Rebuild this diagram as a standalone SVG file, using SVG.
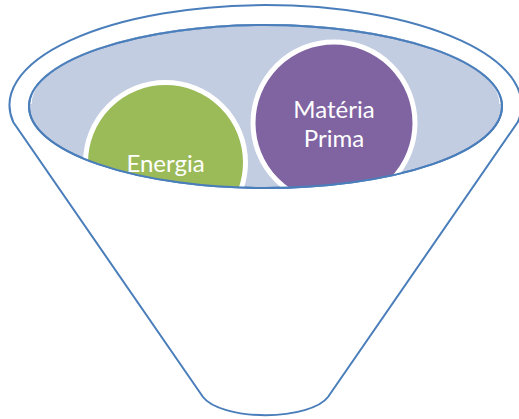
<svg xmlns="http://www.w3.org/2000/svg" width="519" height="419" viewBox="0 0 519 419">
  <defs>
    <style>
      .outline { fill: none; stroke: #4A7EBB; stroke-width: 2; }
      .bowl { fill: #C3CDE1; stroke: #4A7EBB; stroke-width: 2; }
      .ball { stroke: #FFFFFF; stroke-width: 5; }
      .label { fill: #FFFFFF; font-family: Lato, "Liberation Sans", sans-serif; font-size: 24px; text-anchor: middle; }
    </style>
    <clipPath id="bowlClip">
      <ellipse cx="265.5" cy="106.5" rx="236.5" ry="81.5"/>
    </clipPath>
  </defs>
  <rect width="519" height="419" fill="#FFFFFF"/>
  <g id="funnel">
    <path class="outline" d="M 13.2 122 A 256 100 0 1 1 517.8 122 L 328 397 A 65 25 0 0 1 203 397 Z"/>
  </g>
  <g id="bowl">
    <ellipse class="bowl" cx="265.5" cy="106.5" rx="236.5" ry="81.5"/>
    <path d="M 31 104 A 234.5 79 0 0 1 500 104" fill="none" stroke="#FFFFFF" stroke-width="1.2"/>
  </g>
  <g id="energia" clip-path="url(#bowlClip)">
    <circle class="ball" cx="165.5" cy="162.5" r="80" fill="#9BBB59"/>
    <text class="label" x="165.5" y="172">Energia</text>
  </g>
  <g id="materia-prima" clip-path="url(#bowlClip)">
    <circle class="ball" cx="334" cy="123" r="81" fill="#8064A2"/>
    <text class="label" x="334" y="118">Matéria</text>
    <text class="label" x="334" y="147">Prima</text>
  </g>
  <g id="bowl-rim">
    <ellipse cx="265.5" cy="106.5" rx="236.5" ry="81.5" fill="none" stroke="#4A7EBB" stroke-width="2"/>
  </g>
</svg>
